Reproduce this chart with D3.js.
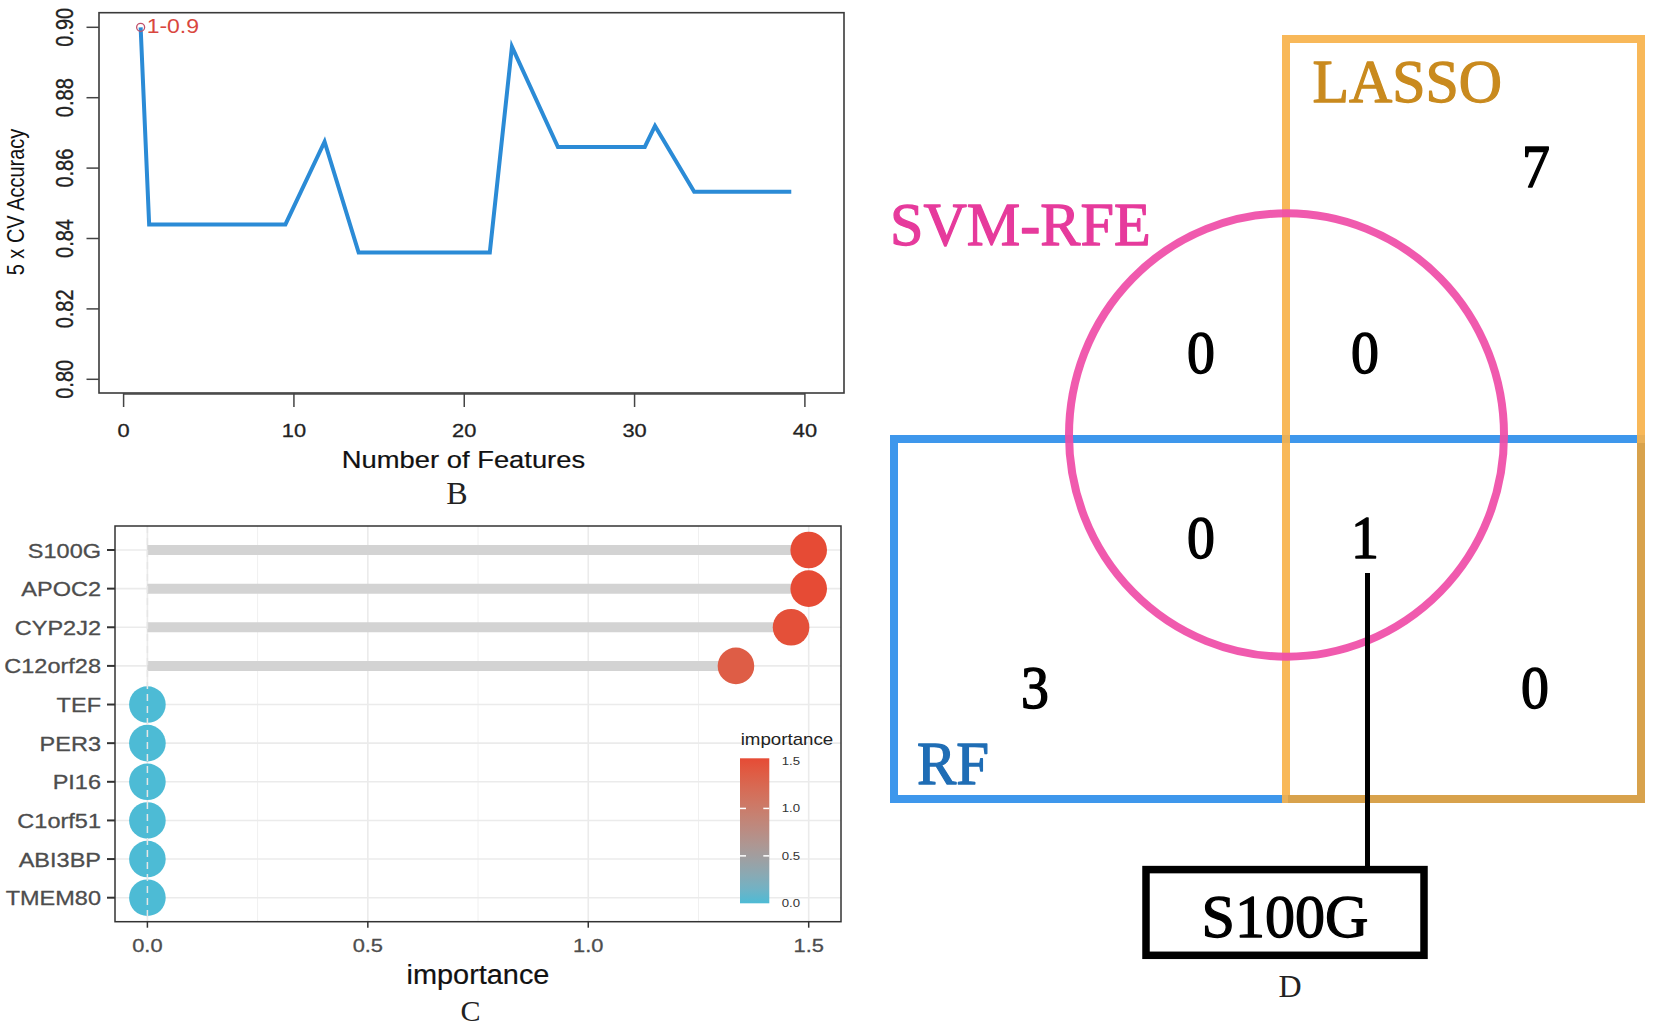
<!DOCTYPE html>
<html>
<head>
<meta charset="utf-8">
<script src="https://cdn.jsdelivr.net/npm/d3@7"></script>
<style>
  html, body { margin: 0; padding: 0; background: #fff; }
  svg { display: block; }
</style>
</head>
<body>
<svg id="chart" width="1654" height="1029"></svg>
<script>
// ---------------- DATA ----------------
// Panel B: SVM-RFE cross-validation accuracy
const featureCounts = [1, 1.5, 9.5, 11.8, 13.8, 21.5, 22.8, 25.5, 30.6, 31.2, 33.5, 39.2];
const cvAccuracy    = [0.900, 0.844, 0.844, 0.8675, 0.836, 0.836, 0.8945, 0.866, 0.866, 0.872, 0.8533, 0.8533];
const bestPointLabel = "1-0.9";
const bXTicks = [0, 10, 20, 30, 40];
const bYTicks = [0.80, 0.82, 0.84, 0.86, 0.88, 0.90];

// Panel C: random forest importance
const genes       = ["S100G", "APOC2", "CYP2J2", "C12orf28", "TEF", "PER3", "PI16", "C1orf51", "ABI3BP", "TMEM80"];
const importance  = [1.50, 1.50, 1.46, 1.335, 0, 0, 0, 0, 0, 0];
const cXTicks     = [0, 0.5, 1.0, 1.5];
const cXMinor     = [0.25, 0.75, 1.25];
const legendTicks = [0, 0.5, 1.0, 1.5];

// Panel D: Venn of three methods
const vennSets   = ["SVM-RFE", "LASSO", "RF"];
const vennCounts = { svmOnlyTop: 0, svmLasso: 0, svmRf: 0, all3: 1, rfOnly: 3, lassoRf: 0, lassoOnly: 7 };
const sharedGene = "S100G";
const panelLetters = ["B", "C", "D"];

// ---------------- HELPERS ----------------
const svg = d3.select("#chart");
const SANS = "'Liberation Sans', Arial, sans-serif";
const SERIF = "'Liberation Serif', 'Times New Roman', serif";

function txt(g, str, x, y, o) {
  o = o || {};
  const sx = o.sx || 1;
  let tr = `translate(${x},${y}) scale(${sx},1)`;
  if (o.rot) tr += ` rotate(${o.rot})`;
  const t = g.append("text")
    .attr("transform", tr)
    .attr("text-anchor", o.anchor || "start")
    .style("font-family", o.family || SANS)
    .style("font-size", (o.size || 16) + "px")
    .style("font-weight", o.weight || "normal")
    .attr("fill", o.fill || "#000")
    .text(str);
  if (o.sw) t.attr("stroke", o.fill || "#000").attr("stroke-width", o.sw).attr("stroke-linejoin", "round");
  return t;
}

// ---------------- PANEL B ----------------
const gB = svg.append("g");
const bBox = { l: 99, r: 844, t: 12.7, b: 393 };
const xB = d3.scaleLinear().domain([0, 40]).range([123.6, 804.9]);
const yB = d3.scaleLinear().domain([0.80, 0.90]).range([379.3, 27.3]);

gB.append("rect").attr("x", bBox.l).attr("y", bBox.t)
  .attr("width", bBox.r - bBox.l).attr("height", bBox.b - bBox.t)
  .attr("fill", "none").attr("stroke", "#3a3a3a").attr("stroke-width", 1.6);

// y axis ticks
gB.selectAll(".ytk").data(bYTicks).enter().append("line")
  .attr("x1", bBox.l - 12.5).attr("x2", bBox.l)
  .attr("y1", d => yB(d)).attr("y2", d => yB(d))
  .attr("stroke", "#444").attr("stroke-width", 1.5);
bYTicks.forEach(v => txt(gB, v.toFixed(2), 73, yB(v), { size: 20, sx: 1.18, rot: -90, anchor: "middle", fill: "#222", sw: 0.3 }));

// x axis ticks
gB.append("line").attr("x1", xB(0)).attr("x2", xB(40)).attr("y1", bBox.b + 1).attr("y2", bBox.b + 1)
  .attr("stroke", "#444").attr("stroke-width", 1.5);
gB.selectAll(".xtk").data(bXTicks).enter().append("line")
  .attr("x1", d => xB(d)).attr("x2", d => xB(d))
  .attr("y1", bBox.b).attr("y2", bBox.b + 14)
  .attr("stroke", "#444").attr("stroke-width", 1.5);
bXTicks.forEach(v => txt(gB, String(v), xB(v), 437, { size: 19, sx: 1.15, anchor: "middle", fill: "#222", sw: 0.3 }));

txt(gB, "5 x CV Accuracy", 24, 202, { size: 20, sx: 1.18, rot: -90, anchor: "middle", fill: "#111" });
txt(gB, "Number of Features", 463.5, 468, { size: 23, sx: 1.19, anchor: "middle", fill: "#111", sw: 0.2 });

const lineB = d3.line().x((d, i) => xB(featureCounts[i])).y(d => yB(d));
gB.append("path").datum(cvAccuracy).attr("d", lineB)
  .attr("fill", "none").attr("stroke", "#2B8BD6").attr("stroke-width", 4)
  .attr("stroke-linejoin", "miter");

gB.append("circle").attr("cx", xB(featureCounts[0])).attr("cy", yB(cvAccuracy[0])).attr("r", 4)
  .attr("fill", "none").attr("stroke", "#C0506A").attr("stroke-width", 1.3);
txt(gB, bestPointLabel, xB(featureCounts[0]) + 6, yB(cvAccuracy[0]) + 6, { size: 20, sx: 1.15, fill: "#D9473E" });

txt(gB, panelLetters[0], 457, 504, { size: 32, family: SERIF, anchor: "middle", fill: "#222" });

// ---------------- PANEL C ----------------
const gC = svg.append("g");
const cBox = { l: 115, r: 841, t: 526, b: 921.7 };
const xC = d3.scaleLinear().domain([0, 1.5]).range([147.4, 808.7]);
const yC = d3.scalePoint().domain(genes).range([550, 897.7]);
const colorC = d3.scaleLinear().domain([0, 1.5]).range(["#4DBBD5", "#E64B35"]).interpolate(d3.interpolateLab);

gC.append("rect").attr("x", cBox.l).attr("y", cBox.t)
  .attr("width", cBox.r - cBox.l).attr("height", cBox.b - cBox.t).attr("fill", "#fff");

// grid
gC.selectAll(".vmin").data(cXMinor).enter().append("line")
  .attr("x1", d => xC(d)).attr("x2", d => xC(d)).attr("y1", cBox.t).attr("y2", cBox.b)
  .attr("stroke", "#F0F0F0").attr("stroke-width", 1);
gC.selectAll(".vmaj").data(cXTicks).enter().append("line")
  .attr("x1", d => xC(d)).attr("x2", d => xC(d)).attr("y1", cBox.t).attr("y2", cBox.b)
  .attr("stroke", "#EBEBEB").attr("stroke-width", 1.6);
gC.selectAll(".hmaj").data(genes).enter().append("line")
  .attr("x1", cBox.l).attr("x2", cBox.r).attr("y1", d => yC(d)).attr("y2", d => yC(d))
  .attr("stroke", "#EBEBEB").attr("stroke-width", 1.6);

// lollipops
gC.selectAll(".seg").data(genes).enter().append("line")
  .attr("x1", xC(0)).attr("x2", (d, i) => xC(importance[i]))
  .attr("y1", d => yC(d)).attr("y2", d => yC(d))
  .attr("stroke", "#D3D3D3").attr("stroke-width", 10);
gC.selectAll(".dot").data(genes).enter().append("circle")
  .attr("cx", (d, i) => xC(importance[i])).attr("cy", d => yC(d)).attr("r", 18.3)
  .attr("fill", (d, i) => colorC(importance[i]));
gC.append("line").attr("x1", xC(0)).attr("x2", xC(0)).attr("y1", cBox.t).attr("y2", cBox.b)
  .attr("stroke", "#E6E6E6").attr("stroke-width", 1.5).attr("stroke-dasharray", "7,5");

gC.append("rect").attr("x", cBox.l).attr("y", cBox.t)
  .attr("width", cBox.r - cBox.l).attr("height", cBox.b - cBox.t)
  .attr("fill", "none").attr("stroke", "#333").attr("stroke-width", 1.5);

// axes
gC.selectAll(".cyt").data(genes).enter().append("line")
  .attr("x1", cBox.l - 8).attr("x2", cBox.l).attr("y1", d => yC(d)).attr("y2", d => yC(d))
  .attr("stroke", "#333").attr("stroke-width", 2);
genes.forEach(g => txt(gC, g, 101, yC(g) + 7.5, { size: 21, sx: 1.12, anchor: "end", fill: "#4D4D4D", sw: 0.3 }));
gC.selectAll(".cxt").data(cXTicks).enter().append("line")
  .attr("x1", d => xC(d)).attr("x2", d => xC(d)).attr("y1", cBox.b).attr("y2", cBox.b + 6)
  .attr("stroke", "#333").attr("stroke-width", 1.5);
cXTicks.forEach(v => txt(gC, v.toFixed(1), xC(v), 951.5, { size: 19, sx: 1.15, anchor: "middle", fill: "#4D4D4D", sw: 0.3 }));
txt(gC, "importance", 478, 984, { size: 27, sx: 1.07, anchor: "middle", fill: "#111", sw: 0.2 });

// legend colourbar
const legY = d3.scaleLinear().domain([0, 1.5]).range([903.3, 761]);
const defs = svg.append("defs");
const grad = defs.append("linearGradient").attr("id", "impGrad")
  .attr("x1", 0).attr("y1", 1).attr("x2", 0).attr("y2", 0);
d3.range(0, 1.0001, 0.1).forEach(t => {
  grad.append("stop").attr("offset", t).attr("stop-color", colorC(t * 1.5));
});
txt(gC, "importance", 740.7, 745, { size: 16, sx: 1.17, fill: "#222" });
gC.append("rect").attr("x", 740).attr("y", 758.3).attr("width", 29.3).attr("height", 903.3 - 758.3)
  .attr("fill", "url(#impGrad)");
[0.5, 1.0].forEach(v => {
  gC.append("line").attr("x1", 740).attr("x2", 746).attr("y1", legY(v)).attr("y2", legY(v))
    .attr("stroke", "#fff").attr("stroke-width", 1.5);
  gC.append("line").attr("x1", 763.3).attr("x2", 769.3).attr("y1", legY(v)).attr("y2", legY(v))
    .attr("stroke", "#fff").attr("stroke-width", 1.5);
});
legendTicks.forEach(v => txt(gC, v.toFixed(1), 781.7, legY(v) + 4, { size: 11, sx: 1.2, fill: "#333" }));

txt(gC, panelLetters[1], 470.5, 1021, { size: 30, family: SERIF, anchor: "middle", fill: "#222" });

// ---------------- PANEL D ----------------
const gD = svg.append("g");
const rf    = { x1: 894, x2: 1641, y1: 439, y2: 799 };
const lasso = { x1: 1286, x2: 1641, y1: 39, y2: 799 };
const svm   = { cx: 1286.5, cy: 435, rx: 217.5, ry: 221.7 };
const BLUE = "#3E97EC", ORANGE = "#F7B24B", TAN = "#D8A24C", PINK = "#EF4DA8";

gD.append("rect").attr("x", rf.x1).attr("y", rf.y1).attr("width", rf.x2 - rf.x1).attr("height", rf.y2 - rf.y1)
  .attr("fill", "none").attr("stroke", BLUE).attr("stroke-width", 8);
gD.append("rect").attr("x", lasso.x1).attr("y", lasso.y1).attr("width", lasso.x2 - lasso.x1).attr("height", lasso.y2 - lasso.y1)
  .attr("fill", "none").attr("stroke", ORANGE).attr("stroke-width", 8).attr("opacity", 0.92);
// overlapping edges of RF and LASSO
gD.append("path")
  .attr("d", `M${lasso.x1 + 2},${rf.y2} L${rf.x2},${rf.y2} L${rf.x2},${rf.y1 + 4}`)
  .attr("fill", "none").attr("stroke", TAN).attr("stroke-width", 8);
gD.append("ellipse").attr("cx", svm.cx).attr("cy", svm.cy).attr("rx", svm.rx).attr("ry", svm.ry)
  .attr("fill", "none").attr("stroke", PINK).attr("stroke-width", 8).attr("opacity", 0.93);

// set labels
txt(gD, vennSets[1], 1312.5, 101.5, { size: 62, sx: 0.965, family: SERIF, fill: "#C98A1E", sw: 1.3 });
txt(gD, vennSets[0], 890, 245, { size: 62, sx: 0.97, family: SERIF, fill: "#E63A9C", sw: 1.3 });
txt(gD, vennSets[2], 917, 784, { size: 62, sx: 0.95, family: SERIF, fill: "#1F6DB5", sw: 1.3 });

// region counts (placed relative to the shapes)
const numOpt = { size: 62, sx: 0.9, family: SERIF, anchor: "middle", fill: "#000", sw: 1.5 };
const leftCol = svm.cx - 85.5, rightCol = svm.cx + 78.5, outerR = lasso.x2 - 106;
txt(gD, String(vennCounts.lassoOnly), outerR + 1, 187, numOpt);
txt(gD, String(vennCounts.svmOnlyTop), leftCol, 373, numOpt);
txt(gD, String(vennCounts.svmLasso), rightCol, 373, numOpt);
txt(gD, String(vennCounts.svmRf), leftCol, 558, numOpt);
txt(gD, String(vennCounts.all3), rightCol, 558, numOpt);
txt(gD, String(vennCounts.rfOnly), 1035, 708, numOpt);
txt(gD, String(vennCounts.lassoRf), outerR, 708, numOpt);

// callout
const box = { x1: 1146, x2: 1424, y1: 869.6, y2: 955.3 };
gD.append("line").attr("x1", 1367.5).attr("x2", 1367.5).attr("y1", 573).attr("y2", box.y1)
  .attr("stroke", "#000").attr("stroke-width", 5);
gD.append("rect").attr("x", box.x1).attr("y", box.y1).attr("width", box.x2 - box.x1).attr("height", box.y2 - box.y1)
  .attr("fill", "#fff").attr("stroke", "#000").attr("stroke-width", 7.5);
txt(gD, sharedGene, (box.x1 + box.x2) / 2, 937, { size: 62, sx: 0.97, family: SERIF, anchor: "middle", fill: "#000", sw: 1.3 });

txt(gD, panelLetters[2], 1290, 996.5, { size: 32, family: SERIF, anchor: "middle", fill: "#222" });
</script>
</body>
</html>
